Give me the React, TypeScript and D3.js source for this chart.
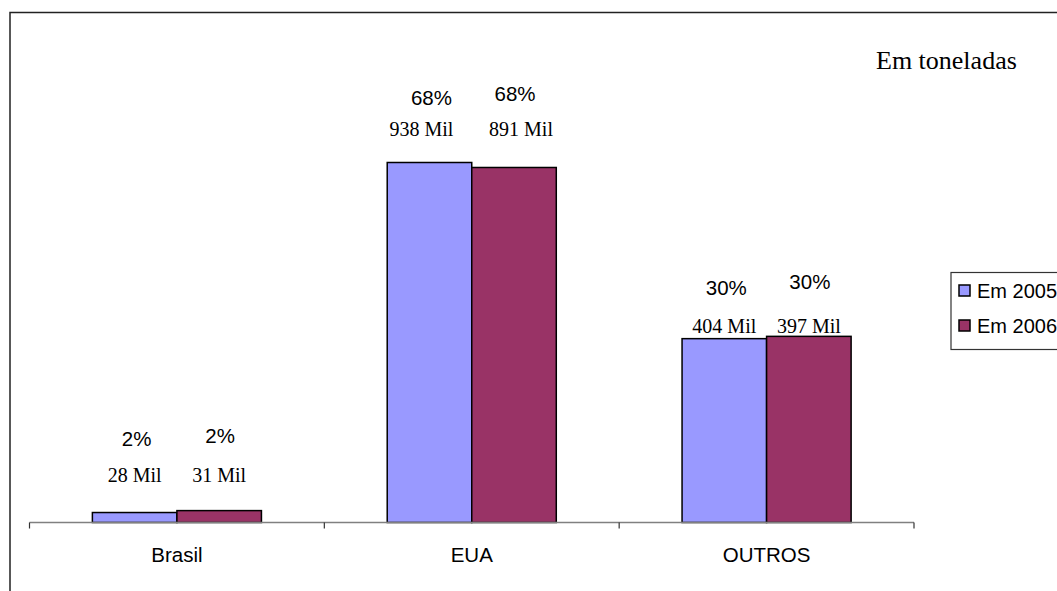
import React from 'react';
import * as d3 from 'd3';

const categories = ['Brasil', 'EUA', 'OUTROS'];
const series = ['Em 2005', 'Em 2006'];
// bar heights (Mil toneladas)
const values2005 = [26, 938, 479];
const values2006 = [31, 925, 485];
const pct2005 = ['2%', '68%', '30%'];
const pct2006 = ['2%', '68%', '30%'];
const mil2005 = ['28 Mil', '938 Mil', '404 Mil'];
const mil2006 = ['31 Mil', '891 Mil', '397 Mil'];
const colors = ['#9999FF', '#993366'];

const sans = '"Liberation Sans", Arial, sans-serif';
const serif = '"Liberation Serif", "Times New Roman", serif';

// label baselines per category (text boxes sit a bit irregularly)
const labelY = {
    Brasil: { pct: [446, 443], mil: 482 },
    EUA: { pct: [105, 101], mil: 136 },
    OUTROS: { pct: [295, 289], mil: 333 },
};

const App = () => {
    const width = 1057;
    const height = 591;
    const baseline = 522.5;

    const x = d3.scaleBand()
        .domain(categories)
        .range([29.5, 914])
        .paddingInner(0)
        .paddingOuter(0);

    const xs = d3.scaleBand()
        .domain(series)
        .range([0, x.bandwidth()])
        .paddingInner(0)
        .paddingOuter(0.744);

    const y = d3.scaleLinear()
        .domain([0, 1000])
        .range([baseline, baseline - 383.8]);

    const vals = [values2005, values2006];
    const pcts = [pct2005, pct2006];
    const mils = [mil2005, mil2006];

    const edges = [...categories.map(c => x(c)), x.range()[1]];

    return (
        <svg width={width} height={height} style={{ position: 'absolute', left: 0, top: 0 }}>
            <rect x={0} y={0} width={width} height={height} fill="#fff" />
            <rect x={10} y={12.5} width={1200} height={700} fill="none" stroke="#222" strokeWidth={1.5} />

            <text x={876} y={69} fontFamily={serif} fontSize={26} fill="#000">Em toneladas</text>

            {series.map((s, si) => categories.map((c, ci) => {
                const bx = x(c) + xs(s);
                const by = y(vals[si][ci]);
                return (
                    <rect key={s + c} x={bx} y={by} width={xs.bandwidth()} height={baseline - by}
                        fill={colors[si]} stroke="#000" strokeWidth={1.5} />
                );
            }))}

            <line x1={x.range()[0]} x2={x.range()[1]} y1={baseline} y2={baseline} stroke="#808080" strokeWidth={1.5} />
            {edges.map((e, i) => (
                <line key={i} x1={e} x2={e} y1={baseline} y2={baseline + 6} stroke="#333" strokeWidth={1.2} />
            ))}

            {categories.map(c => (
                <text key={c} x={x(c) + x.bandwidth() / 2} y={562} textAnchor="middle"
                    fontFamily={sans} fontSize={20.5} fill="#000">{c}</text>
            ))}

            {series.map((s, si) => categories.map((c, ci) => {
                const cx = x(c) + xs(s) + xs.bandwidth() / 2;
                return (
                    <g key={'l' + s + c}>
                        <text x={cx + (si === 0 ? 2 : 1)} y={labelY[c].pct[si]} textAnchor="middle"
                            fontFamily={sans} fontSize={20.5} fill="#000">{pcts[si][ci]}</text>
                        <text x={cx + (c === 'EUA' ? (si === 0 ? -8 : 7) : 0)} y={labelY[c].mil} textAnchor="middle"
                            fontFamily={serif} fontSize={20} fill="#000">{mils[si][ci]}</text>
                    </g>
                );
            }))}

            <rect x={951} y={272.5} width={150} height={77} fill="#fff" stroke="#333" strokeWidth={1.2} />
            {series.map((s, si) => (
                <g key={'lg' + s} transform={`translate(959, ${285 + si * 35})`}>
                    <rect x={0} y={0} width={11} height={11} fill={colors[si]} stroke="#000" strokeWidth={1.5} />
                    <text x={18} y={12.5} fontFamily={sans} fontSize={20} fill="#000">{s}</text>
                </g>
            ))}
        </svg>
    );
};

export default App;
